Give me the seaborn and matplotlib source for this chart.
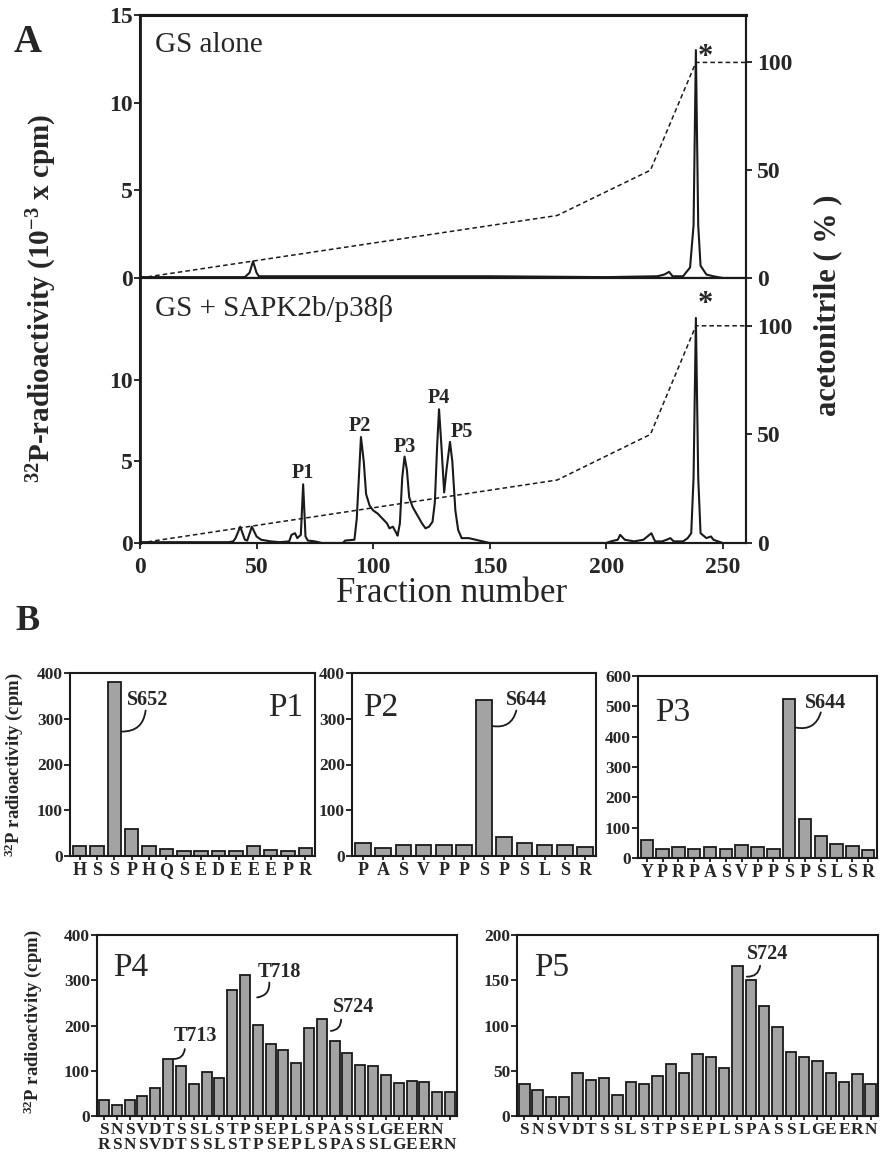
import numpy as np
import pandas as pd
import matplotlib
matplotlib.use('Agg')
import matplotlib.pyplot as plt
import seaborn as sns

# ---- panel A: HPLC traces (fraction, 10^-3 x cpm) ----
gs_alone_frac = [0, 45, 47, 48.5, 50, 51, 60, 100, 150, 200, 222, 225, 227, 228.5, 233,
                 236, 237.5, 238.5, 239.5, 240.5, 243, 246, 250]
gs_alone_cpm = [0.05, 0.05, 0.3, 0.95, 0.3, 0.1, 0.1, 0.1, 0.1, 0.05, 0.1, 0.2, 0.35, 0.1, 0.1,
                0.6, 3.0, 13.0, 3.0, 0.7, 0.2, 0.1, 0.0]

gs_sapk_frac = [0, 5, 38, 40, 41, 43, 45, 46, 48, 50, 52, 56, 60, 64, 65, 66.5, 67.5, 69, 70, 71,
                72, 75, 78, 87, 88, 92, 93, 94.8, 96, 97, 98.5, 100, 102, 104, 106, 107, 108.5,
                110, 110.5, 111.5, 112.5, 113.5, 114.5, 115.5, 117, 119, 121, 122.5, 124, 125.5,
                126.5, 127.5, 128.3, 129.3, 130.5, 131.5, 133, 134, 135.3, 136.5, 138, 141, 144,
                147, 150, 200, 202, 205, 206, 208, 212, 216, 219.4, 221, 224, 226, 227.5, 229,
                233, 235, 236.5, 237.5, 238.5, 239.5, 240.5, 243, 245, 246, 250]
gs_sapk_cpm = [0.05, 0.05, 0.05, 0.1, 0.3, 1.0, 0.2, 0.15, 1.0, 0.4, 0.2, 0.1, 0.05, 0.1, 0.5, 0.6,
               0.3, 0.5, 3.6, 0.4, 0.15, 0.1, 0.0, 0.0, 0.15, 0.2, 1.5, 6.5, 5.0, 3.0, 2.3, 2.0,
               1.8, 1.5, 1.2, 0.9, 1.0, 0.6, 0.45, 1.2, 4.0, 5.3, 4.5, 2.8, 2.2, 1.7, 1.2, 0.9,
               1.0, 1.3, 2.5, 6.0, 8.2, 6.0, 3.1, 4.5, 6.2, 5.0, 2.0, 0.8, 0.3, 0.3, 0.2, 0.1,
               0.0, 0.0, 0.1, 0.2, 0.5, 0.2, 0.1, 0.2, 0.6, 0.1, 0.1, 0.2, 0.3, 0.1, 0.1, 0.3,
               0.6, 4.0, 13.8, 4.0, 0.6, 0.3, 0.4, 0.2, 0.0]

# acetonitrile gradient (%)
grad_frac = [0, 179, 219, 238.5, 260]
grad_pct = [0, 29, 50, 100, 100]

# ---- panel B: Edman sequencing ----
p1_seq = list("HSSPHQSEDEEEPR")
p1_cpm = [22, 22, 380, 60, 22, 15, 12, 12, 12, 12, 22, 14, 10, 18]
p2_seq = list("PASVPPSPSLSR")
p2_cpm = [28, 17, 25, 25, 25, 25, 342, 42, 28, 24, 24, 20]
p3_seq = list("YPRPASVPPSPSLSR")
p3_cpm = [60, 30, 35, 30, 35, 30, 42, 35, 30, 525, 130, 72, 45, 40, 28]
p4_seq_top = "SNSVDTSSLSTPSEPLSPASSLGEERN"
p4_seq_bot = "RSNSVDTSSLSTPSEPLSPASSLGEERN"
p4_cpm = [35, 25, 35, 45, 62, 125, 110, 70, 97, 85, 278, 312, 202, 160, 145, 118, 195, 215,
          165, 140, 112, 110, 90, 72, 78, 75, 52, 52]
p5_seq = list("SNSVDTSSLSTPSEPLSPASSLGEERN")
p5_cpm = [35, 29, 21, 21, 48, 40, 42, 23, 38, 35, 44, 58, 48, 69, 65, 53, 166, 150, 121, 98,
          71, 65, 61, 48, 38, 46, 35]

sns.set_theme(style='ticks')
plt.rcParams['font.family'] = ['Liberation Serif', 'DejaVu Serif']
plt.rcParams['mathtext.fontset'] = 'custom'
plt.rcParams['mathtext.rm'] = 'Liberation Serif'
plt.rcParams['mathtext.bf'] = 'Liberation Serif:bold'
plt.rcParams['axes.linewidth'] = 1.5

W, H = 883, 1157
fig = plt.figure(figsize=(W / 100, H / 100), dpi=100)


def rect(l, t, r, b):
    return [l / W, 1 - b / H, (r - l) / W, (b - t) / H]


def style_axis(ax, size):
    ax.tick_params(axis='both', direction='out', length=4, width=1.3, color='k',
                   labelsize=size, pad=1)
    for lab in ax.get_xticklabels() + ax.get_yticklabels():
        lab.set_fontweight('bold')
    for s in ax.spines.values():
        s.set_visible(True)
        s.set_color('k')


def trace_panel(rc, frac, cpm, ymax, yticks, title, star_y, bottom):
    ax = fig.add_axes(rect(*rc))
    sns.lineplot(x=frac, y=cpm, color='k', lw=1.5, ax=ax)
    ax.set_xlim(0, 260)
    ax.set_ylim(0, ymax)
    ax.set_yticks(yticks)
    ax.set_xlabel('')
    ax.set_ylabel('')
    if bottom:
        ax.set_xticks([0, 50, 100, 150, 200, 250])
    else:
        ax.set_xticks([])
    ax.text(0.024, 0.886, title, transform=ax.transAxes, fontsize=21, va='center')
    ax.text(242.5, star_y, '*', fontsize=22, fontweight='bold', ha='center', va='center')
    style_axis(ax, 17)
    ax.spines['left'].set_linewidth(2)
    axr = ax.twinx()
    sns.lineplot(x=grad_frac, y=grad_pct, color='k', lw=1.1, ls=(0, (3, 2)), ax=axr)
    axr.set_ylim(0, 122)
    axr.set_yticks([0, 50, 100])
    axr.set_ylabel('')
    style_axis(axr, 17)
    axr.tick_params(axis='y', pad=4)
    return ax


axA1 = trace_panel((140, 15, 746, 278), gs_alone_frac, gs_alone_cpm, 15, [0, 5, 10, 15],
                   'GS alone', 12.6, False)
axA1.spines['top'].set_linewidth(2.2)
axA2 = trace_panel((140, 278, 746, 543), gs_sapk_frac, gs_sapk_cpm, 16.25, [0, 5, 10],
                   'GS + SAPK2b/p38β', 14.6, True)
axA2.tick_params(axis='x', pad=6)

# peak labels
for name, x, y in [('P1', 70, 4.3), ('P2', 94.5, 7.2), ('P3', 113.5, 5.9),
                   ('P4', 128, 8.9), ('P5', 138, 6.8)]:
    axA2.text(x, y, name, fontsize=14.5, fontweight='bold', ha='center', va='center')

fig.text(452 / W, 1 - 594 / H, 'Fraction number', fontsize=25, ha='center', va='center')
fig.text(42 / W, 1 - 298 / H, r'$\mathbf{^{32}}$P-radioactivity (10$\mathbf{^{-3}}$ x cpm)',
         fontsize=21, fontweight='bold', rotation=90, ha='center', va='center')
fig.text(828 / W, 1 - 305 / H, 'acetonitrile ( % )', fontsize=22, fontweight='bold',
         rotation=90, ha='center', va='center')
fig.text(28 / W, 1 - 42 / H, 'A', fontsize=28, fontweight='bold', ha='center', va='center')
fig.text(27 / W, 1 - 622 / H, 'B', fontsize=26, fontweight='bold', ha='center', va='center')


def bar_panel(rc, seq, cpm, ymax, yticks, name, name_xy, name_ha, notes, lab_size=13):
    ax = fig.add_axes(rect(*rc))
    n = len(cpm)
    sns.barplot(x=list(range(n)), y=cpm, color='#a3a3a3', saturation=1, edgecolor='k',
                linewidth=1.3, width=0.78, ax=ax)
    ax.set_xlim(-0.55, n - 0.45)
    ax.set_ylim(0, ymax)
    ax.set_yticks(yticks)
    ax.set_xticks(range(n))
    ax.set_xticklabels(seq)
    ax.set_xlabel('')
    ax.set_ylabel('')
    style_axis(ax, 12.5)
    ax.tick_params(axis='x', labelsize=lab_size, length=3)
    ax.text(name_xy[0], name_xy[1], name, transform=ax.transAxes, fontsize=24,
            ha=name_ha, va='center')
    for txt, start, end, pos in notes:
        ax.annotate('', xy=end, xytext=start,
                    arrowprops=dict(arrowstyle='-', lw=1.3, color='k',
                                    connectionstyle='arc3,rad=0.45',
                                    shrinkA=0, shrinkB=0))
        ax.text(pos[0], pos[1], txt, fontsize=14.5, fontweight='bold', ha='left', va='center')
    return ax


bar_panel((70, 673, 315, 856), p1_seq, p1_cpm, 400, [0, 100, 200, 300, 400], 'P1',
          (0.95, 0.81), 'right', [('S652', (2.42, 272), (3.8, 318), (2.75, 342))])
bar_panel((352, 673, 596, 856), p2_seq, p2_cpm, 400, [0, 100, 200, 300, 400], 'P2',
          (0.045, 0.81), 'left', [('S644', (6.42, 284), (7.6, 318), (7.1, 342))])
bar_panel((638, 676, 877, 858), p3_seq, p3_cpm, 600, [0, 100, 200, 300, 400, 500, 600], 'P3',
          (0.07, 0.80), 'left', [('S644', (9.42, 430), (11.0, 480), (10.0, 512))])
p4_labels = [(p4_seq_top[i] if i < len(p4_seq_top) else ' ') + '\n' + p4_seq_bot[i]
             for i in range(len(p4_seq_bot))]
ax4 = bar_panel((97, 935, 457, 1116), p4_labels, p4_cpm, 400, [0, 100, 200, 300, 400], 'P4',
                (0.045, 0.82), 'left',
                [('T713', (5.42, 126), (6.3, 148), (5.4, 176)),
                 ('T718', (11.95, 262), (12.9, 295), (12.0, 318)),
                 ('S724', (17.7, 188), (18.5, 213), (17.85, 240))], lab_size=12.5)
for lab in ax4.get_xticklabels():
    lab.set_linespacing(0.95)
bar_panel((517, 935, 878, 1116), p5_seq, p5_cpm, 200, [0, 50, 100, 150, 200], 'P5',
          (0.047, 0.82), 'left', [('S724', (16.7, 154), (17.7, 166), (16.7, 179))],
          lab_size=12.5)

fig.text(14 / W, 1 - 765 / H, r'$\mathbf{^{32}}$P radioactivity (cpm)', fontsize=13.5,
         fontweight='bold', rotation=90, ha='center', va='center')
fig.text(33 / W, 1 - 1022 / H, r'$\mathbf{^{32}}$P radioactivity (cpm)', fontsize=13.5,
         fontweight='bold', rotation=90, ha='center', va='center')

fig.savefig('out.png', dpi=100, facecolor='white')
